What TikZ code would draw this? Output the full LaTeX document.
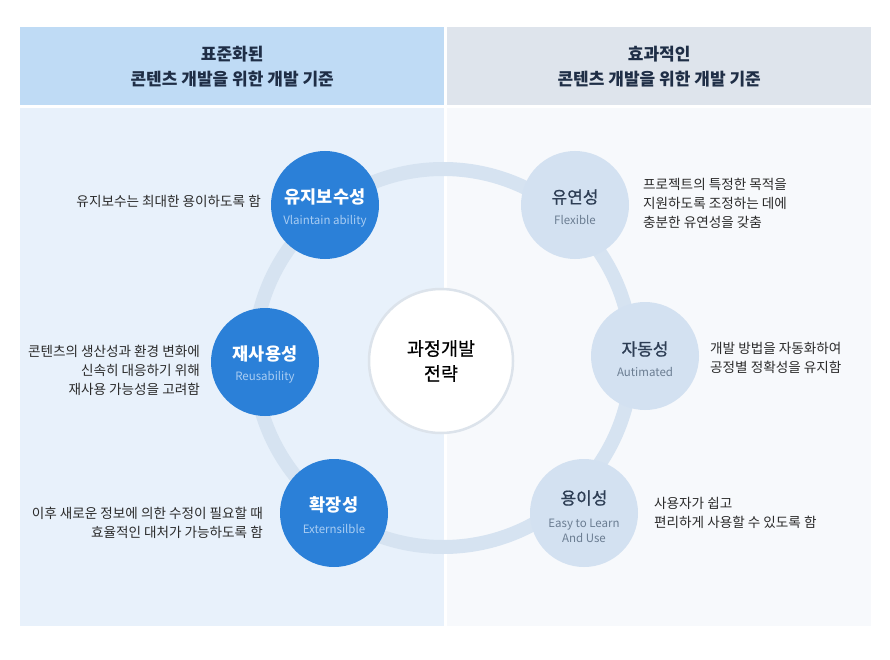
\documentclass[tikz,border=0pt]{standalone}
\usepackage{fontspec}
\setmainfont{Noto Sans CJK KR}
\newfontfamily\medfont[FakeBold=0.7]{Noto Sans CJK KR}
\definecolor{hdrLc}{HTML}{BFDBF5}
\definecolor{hdrRc}{HTML}{DEE4EC}
\definecolor{bodyLc}{HTML}{E8F1FB}
\definecolor{bodyRc}{HTML}{F7F9FC}
\definecolor{darkc}{HTML}{2B80D8}
\definecolor{lightc}{HTML}{D3E1F1}
\definecolor{ringc}{HTML}{D6E3F1}
\definecolor{cbord}{HTML}{DCE3EB}
\definecolor{hdrtxt}{HTML}{1F2E46}
\definecolor{bodytxt}{HTML}{2B2B2B}
\definecolor{subdark}{HTML}{A9CDF3}
\definecolor{sublight}{HTML}{6B7D92}
\definecolor{titlelight}{HTML}{2D3D54}
\begin{document}
\begin{tikzpicture}[x=1pt,y=-1pt,
  hdrbox/.style={minimum width=424pt, minimum height=78pt, inner sep=0pt, anchor=north west, align=center, text=hdrtxt, font=\fontsize{17}{25}\selectfont\bfseries},
  darkcirc/.style={circle, fill=darkc, minimum size=108pt, inner sep=0pt},
  lightcirc/.style={circle, fill=lightc, minimum size=108pt, inner sep=0pt},
  titleD/.style={text=white, font=\fontsize{17.5}{18}\selectfont\bfseries, inner sep=0pt},
  titleL/.style={text=titlelight, font=\fontsize{17}{18}\selectfont\medfont, inner sep=0pt},
  subD/.style={text=subdark, font=\fontsize{11.5}{15}\selectfont, inner sep=0pt, align=center},
  subL/.style={text=sublight, font=\fontsize{11.5}{15}\selectfont, inner sep=0pt, align=center},
  desc/.style={text=bodytxt, font=\fontsize{13.6}{19}\selectfont, inner sep=0pt}
]
\useasboundingbox (0,0) rectangle (890,660);
\fill[white] (0,0) rectangle (890,660);
% headers
\node[hdrbox, fill=hdrLc] (hL) at (20,27) {표준화된\\콘텐츠 개발을 위한 개발 기준};
\node[hdrbox, fill=hdrRc] (hR) at (447,27) {효과적인\\콘텐츠 개발을 위한 개발 기준};
% bodies
\fill[bodyLc] (20,108) rectangle (444,626);
\fill[bodyRc] (447,108) rectangle (871,626);
% ring
\node[circle, draw=ringc, line width=14pt, minimum size=378pt, inner sep=0pt, outer sep=0pt] (ring) at (443,358) {};
% center
\node[circle, fill=white, draw=cbord, line width=2.5pt, minimum size=144pt, inner sep=0pt, align=center, font=\fontsize{18.5}{25}\selectfont\medfont, text=black] (ctr) at (441,361) {과정개발\\전략};
% left circles
\node[darkcirc] (c1) at (325,205) {};
\node[titleD] (c1t) at (325,197) {유지보수성};
\node[subD] (c1s) at (325,221) {Vlaintain ability};
\node[darkcirc] (c2) at (265,362) {};
\node[titleD] (c2t) at (265,354) {재사용성};
\node[subD] (c2s) at (265,377) {Reusability};
\node[darkcirc] (c3) at (334,513) {};
\node[titleD] (c3t) at (334,505) {확장성};
\node[subD] (c3s) at (334,529) {Externsilble};
% right circles
\node[lightcirc] (c4) at (575,205) {};
\node[titleL] (c4t) at (575,197) {유연성};
\node[subL] (c4s) at (575,220) {Flexible};
\node[lightcirc] (c5) at (645,356) {};
\node[titleL] (c5t) at (645,349) {자동성};
\node[subL] (c5s) at (645,372) {Autimated};
\node[lightcirc] (c6) at (584,513) {};
\node[titleL] (c6t) at (584,498) {용이성};
\node[subL] (c6s) at (584,531) {Easy to Learn\\And Use};
% descriptions
\node[desc, anchor=east, align=right] (d1) at (261,201) {유지보수는 최대한 용이하도록 함};
\node[desc, anchor=east, align=right] (d2) at (200,370) {콘텐츠의 생산성과 환경 변화에\\신속히 대응하기 위해\\재사용 가능성을 고려함};
\node[desc, anchor=east, align=right] (d3) at (263,523) {이후 새로운 정보에 의한 수정이 필요할 때\\효율적인 대처가 가능하도록 함};
\node[desc, anchor=west, align=left] (d4) at (643,203) {프로젝트의 특정한 목적을\\지원하도록 조정하는 데에\\충분한 유연성을 갖춤};
\node[desc, anchor=west, align=left] (d5) at (710,358) {개발 방법을 자동화하여\\공정별 정확성을 유지함};
\node[desc, anchor=west, align=left] (d6) at (654,513) {사용자가 쉽고\\편리하게 사용할 수 있도록 함};
\end{tikzpicture}
\end{document}
